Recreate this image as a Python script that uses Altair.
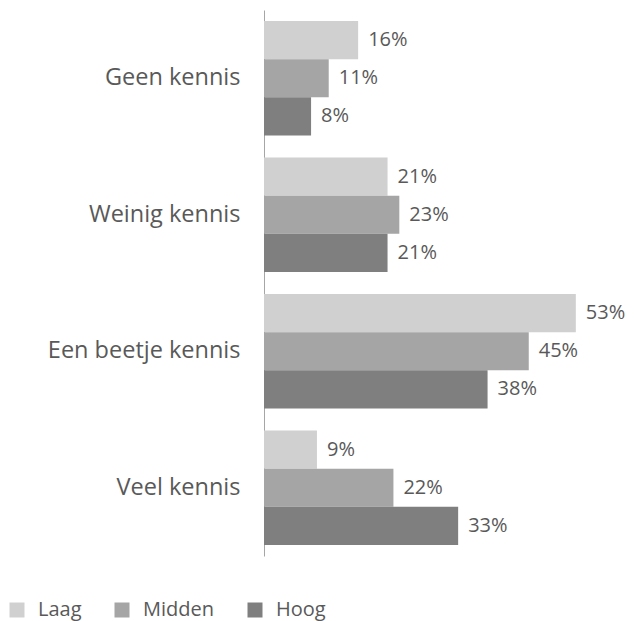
import altair as alt
import pandas as pd

categories = ["Geen kennis", "Weinig kennis", "Een beetje kennis", "Veel kennis"]
series = ["Laag", "Midden", "Hoog"]
laag = [16, 21, 53, 9]
midden = [11, 23, 45, 22]
hoog = [8, 21, 38, 33]
colors = ["#d0d0d0", "#a5a5a5", "#7f7f7f"]

rows = []
for i, c in enumerate(categories):
    for s, vals in zip(series, [laag, midden, hoog]):
        rows.append({"cat": c, "serie": s, "val": vals[i], "lbl": f"{vals[i]}%"})
df = pd.DataFrame(rows)

FONT = "Open Sans"
TXT = "#595959"

y = alt.Y("cat:N", sort=categories,
          scale=alt.Scale(paddingInner=0.16, paddingOuter=0.08),
          axis=alt.Axis(title=None, ticks=False, labelFontSize=23.5, labelFont=FONT,
                        labelColor=TXT, labelPadding=24, domainColor="#a6a6a6",
                        domainWidth=1, labelLimit=300))
yoff = alt.YOffset("serie:N", sort=series, scale=alt.Scale(paddingInner=0, paddingOuter=0))
x = alt.X("val:Q", scale=alt.Scale(domain=[0, 60]), axis=None)

bars = alt.Chart(df).mark_bar().encode(
    y=y, yOffset=yoff, x=x,
    color=alt.Color("serie:N", sort=series,
                    scale=alt.Scale(domain=series, range=colors),
                    legend=alt.Legend(title=None, orient="none", direction="horizontal",
                                      legendX=-257, legendY=590,
                                      symbolType="square", symbolSize=225,
                                      symbolStrokeWidth=0, labelFont=FONT,
                                      labelFontSize=20, labelColor=TXT,
                                      labelOffset=11, columnPadding=30)),
)

labels = alt.Chart(df).mark_text(align="left", baseline="middle", dx=10,
                                 font=FONT, fontSize=20, color=TXT).encode(
    y=y, yOffset=yoff, x=x, text="lbl:N"
)

chart = alt.layer(bars, labels).properties(
    width=353, height=546,
    autosize=alt.AutoSizeParams(type="none"),
    padding={"left": 256, "top": 2, "right": 9, "bottom": 65},
).configure_view(stroke=None)

chart.save("out.html", embed_options={"renderer": "svg", "actions": False})
